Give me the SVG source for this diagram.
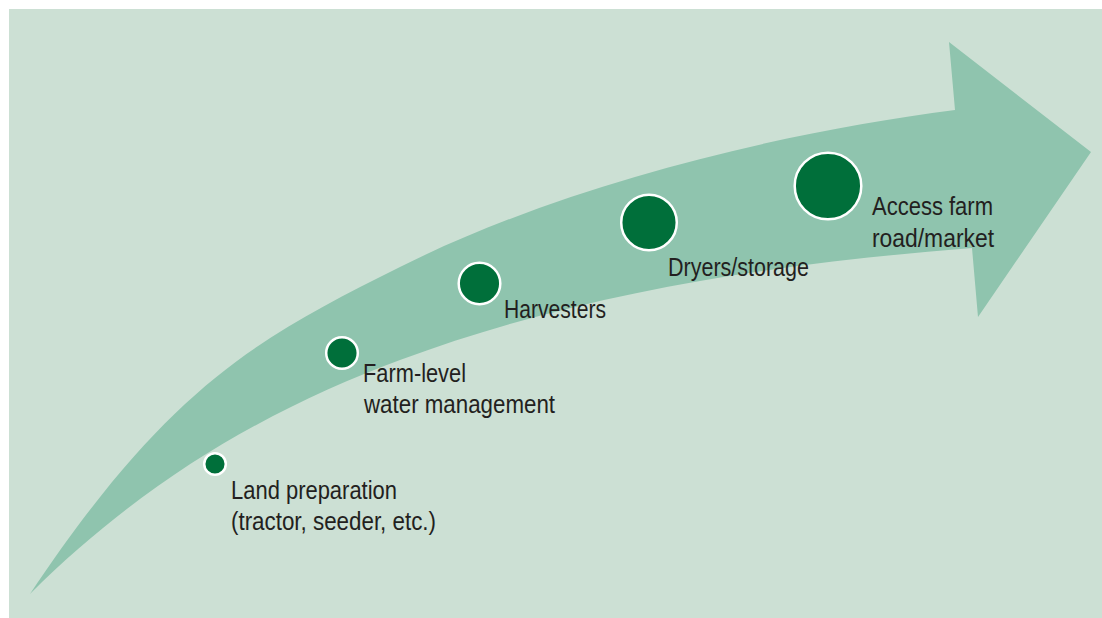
<svg xmlns="http://www.w3.org/2000/svg" width="1102" height="618" viewBox="0 0 1102 618">
<style>
.bg{fill:#cce0d4}
.arrow{fill:#8fc4ae}
.dot{fill:#006f3a;stroke:#ffffff;stroke-width:2.5}
.lbl{font-family:"Liberation Sans",Arial,sans-serif;font-size:25px;fill:#231f20}
</style>
<rect class="bg" x="9" y="9" width="1093" height="609"/>
<g id="connectors">
<path class="arrow" d="M30,594 C170,384 260,337 400,267 C570,182 785,132 955,110 L949,42 L1091,152 L978,317 L972,248 C782,263.2 590,289.7 400,360 C280,404.4 150,474 30,594 Z"/>
</g>
<g id="node-land">
<circle class="dot" cx="215" cy="464" r="10.8"/>
<text class="lbl" x="231" y="499" textLength="166" lengthAdjust="spacingAndGlyphs">Land preparation</text>
<text class="lbl" x="231" y="530" textLength="205" lengthAdjust="spacingAndGlyphs">(tractor, seeder, etc.)</text>
</g>
<g id="node-water">
<circle class="dot" cx="342" cy="353" r="15.8"/>
<text class="lbl" x="363" y="382" textLength="103" lengthAdjust="spacingAndGlyphs">Farm-level</text>
<text class="lbl" x="364" y="413" textLength="191" lengthAdjust="spacingAndGlyphs">water management</text>
</g>
<g id="node-harvesters">
<circle class="dot" cx="479.5" cy="283.5" r="20.8"/>
<text class="lbl" x="504" y="318" textLength="102" lengthAdjust="spacingAndGlyphs">Harvesters</text>
</g>
<g id="node-dryers">
<circle class="dot" cx="649" cy="222.5" r="27.8"/>
<text class="lbl" x="668" y="276" textLength="141" lengthAdjust="spacingAndGlyphs">Dryers/storage</text>
</g>
<g id="node-access">
<circle class="dot" cx="828" cy="186" r="33.3"/>
<text class="lbl" x="872" y="215" textLength="121" lengthAdjust="spacingAndGlyphs">Access farm</text>
<text class="lbl" x="872" y="247" textLength="122" lengthAdjust="spacingAndGlyphs">road/market</text>
</g>
</svg>
